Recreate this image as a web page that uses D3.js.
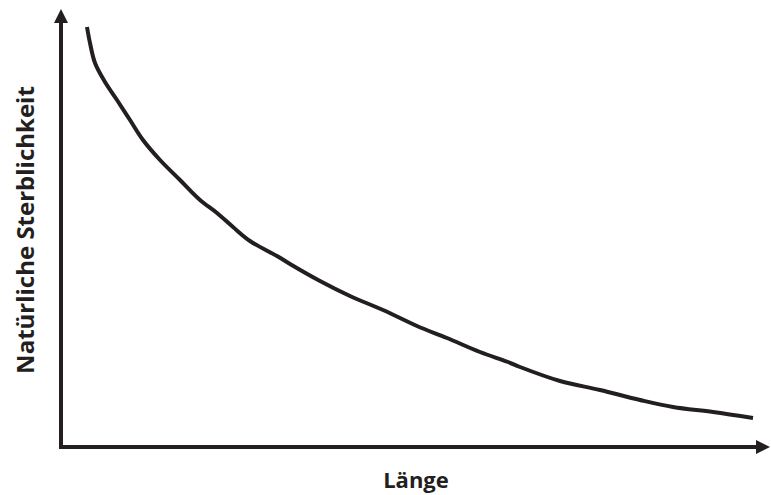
<!DOCTYPE html>
<html>
<head>
<meta charset="utf-8">
<script src="https://cdn.jsdelivr.net/npm/d3@7"></script>
<style>
  html, body { margin: 0; padding: 0; background: #ffffff; }
  svg { display: block; }
</style>
</head>
<body>
<svg id="chart" width="771" height="495"></svg>
<script>
// Data (schematic curve: natural mortality vs. length)
const lengthValues = [26, 29, 34, 44, 56, 69, 82, 99, 119, 139, 156, 172, 189, 216, 229, 259, 289, 322, 356, 386, 419, 447, 459, 499, 539, 579, 612, 652, 692];
const mortalityValues = [420, 404, 384, 365, 347, 327, 307, 287, 267, 247, 234, 220, 206, 191, 183, 166, 151, 137, 121, 109, 95, 85, 80, 66, 57, 47, 40, 35, 29];
const xLabel = "Länge";
const yLabel = "Natürliche Sterblichkeit";

const svg = d3.select("#chart");
const ink = "#231f20";

const x = d3.scaleLinear().domain([0, 700]).range([61, 761]);
const y = d3.scaleLinear().domain([0, 437]).range([447, 10]);

// Axes (plain lines with arrowheads)
svg.append("line")
  .attr("x1", x(0)).attr("y1", y(0) + 2)
  .attr("x2", x(0)).attr("y2", 22)
  .attr("stroke", ink).attr("stroke-width", 4);
svg.append("line")
  .attr("x1", x(0) - 2).attr("y1", y(0))
  .attr("x2", 757).attr("y2", y(0))
  .attr("stroke", ink).attr("stroke-width", 4);

// arrowheads
svg.append("path")
  .attr("d", `M${x(0)},9 L${x(0) - 7},23 L${x(0) + 7},23 Z`)
  .attr("fill", ink);
svg.append("path")
  .attr("d", `M770,${y(0)} L756,${y(0) - 7} L756,${y(0) + 7} Z`)
  .attr("fill", ink);

// Curve
const data = lengthValues.map((v, i) => ({ x: v, y: mortalityValues[i] }));
const line = d3.line()
  .x(d => x(d.x))
  .y(d => y(d.y))
  .curve(d3.curveCatmullRom.alpha(0.5));
svg.append("path")
  .datum(data)
  .attr("d", line)
  .attr("fill", "none")
  .attr("stroke", ink)
  .attr("stroke-width", 4)
  .attr("stroke-linecap", "butt")
  .attr("stroke-linejoin", "round");

// Labels
svg.append("text")
  .attr("x", 416).attr("y", 488)
  .attr("text-anchor", "middle")
  .attr("font-family", "'Open Sans', sans-serif")
  .attr("font-weight", 700)
  .attr("font-size", 22)
  .attr("fill", ink)
  .text(xLabel);

svg.append("text")
  .attr("transform", "translate(34,230) rotate(-90)")
  .attr("text-anchor", "middle")
  .attr("font-family", "'Open Sans', sans-serif")
  .attr("font-weight", 700)
  .attr("font-size", 24)
  .attr("fill", ink)
  .text(yLabel);
</script>
</body>
</html>
